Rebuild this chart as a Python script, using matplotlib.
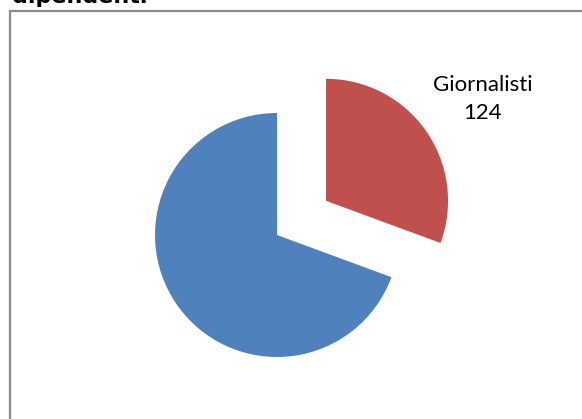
import matplotlib.pyplot as plt
from matplotlib.patches import Rectangle

labels = ['Giornalisti', 'Altri']
values = [124, 281]
colors = ['#C0504D', '#4F81BD']
explode = [0.49, 0]
title = 'dipendenti'

W, H = 582, 419
fig = plt.figure(figsize=(W / 100, H / 100), dpi=100)

# outer frame, running off the right and bottom edges
fig.patches.append(Rectangle((10 / W, -0.05), 1.1, (H - 11) / H + 0.05,
                             transform=fig.transFigure, fill=False,
                             edgecolor='#8c8c8c', linewidth=1.6))

fig.text(12 / W, 1 - 3 / H, title, fontsize=16, fontweight='bold',
         ha='left', va='baseline', family='DejaVu Sans')

# pie radius 1 -> 122 px, centre at (277, 235) from top-left
r = 122
L = 1.5
side = 2 * L * r
cx, cy = 277, H - 235
ax = fig.add_axes([(cx - side / 2) / W, (cy - side / 2) / H, side / W, side / H])
wedges, _ = ax.pie(values, colors=colors, explode=explode, startangle=90,
                   counterclock=False, radius=1,
                   wedgeprops=dict(linewidth=0))
ax.set_xlim(-L, L)
ax.set_ylim(-L, L)
ax.set_aspect('equal')
ax.axis('off')

ax.text((483 - cx) / r, (235 - 99) / r, f'{labels[0]}\n{values[0]}',
        ha='center', va='center', multialignment='center',
        fontsize=16, family='Lato', linespacing=1.45, clip_on=False)

fig.savefig('out.png', dpi=100)
